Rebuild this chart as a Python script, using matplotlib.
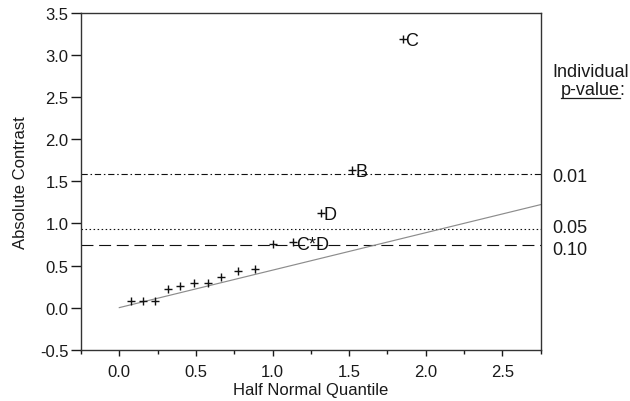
import matplotlib
matplotlib.use("Agg")
import matplotlib.pyplot as plt
import matplotlib.transforms as mtransforms
from matplotlib.lines import Line2D
import numpy as np

plt.rcParams['font.family'] = ['Liberation Sans', 'DejaVu Sans']
plt.rcParams['lines.scale_dashes'] = False

# Data
quantiles = [0.078, 0.154, 0.230, 0.318, 0.398, 0.485, 0.577, 0.666, 0.777, 0.888,
             1.003, 1.134, 1.316, 1.52, 1.85]
contrasts = [0.083, 0.083, 0.083, 0.224, 0.26, 0.295, 0.295, 0.366, 0.43, 0.456,
             0.75, 0.778, 1.128, 1.636, 3.196]
labels = ['', '', '', '', '', '', '', '', '', '', '', 'C*D', 'D', 'B', 'C']

pvalue_labels = ['0.01', '0.05', '0.10']
pvalue_levels = [1.585, 0.936, 0.739]
pvalue_styles = ['dashdot', 'dotted', 'dashed']

ref_slope = 0.445
x_ticks = [0.0, 0.5, 1.0, 1.5, 2.0, 2.5]
y_ticks = [-0.5, 0.0, 0.5, 1.0, 1.5, 2.0, 2.5, 3.0, 3.5]

W, H = 630, 402
fig = plt.figure(figsize=(W/100, H/100), dpi=100)
ax = fig.add_axes([81/W, 1-350.7/H, (540.7-81)/W, (350.7-14)/H])

dark = '#1a1a1a'
ax.set_xlim(-0.25, 2.75)
ax.set_ylim(-0.5, 3.5)

# reference line
xr = np.array([0.0, 2.75])
ax.plot(xr, ref_slope*xr, color='#8c8c8c', lw=0.85, zorder=2)

# p-value lines
dash_map = {'dashdot': (0, (4.5, 2.0, 1.1, 2.0)),
            'dotted': (0, (1.1, 1.8)),
            'dashed': (0, (8.6, 4.1))}
for lvl, st in zip(pvalue_levels, pvalue_styles):
    ax.axhline(lvl, color='#111111', lw=0.8, linestyle=dash_map[st], zorder=1)

# points
ax.plot(quantiles, contrasts, linestyle='none', marker='+', ms=6, mew=1.0,
        color='#111111', zorder=3)
for x, y, lab in zip(quantiles, contrasts, labels):
    if lab:
        ax.annotate(lab, (x, y), xytext=(2, 0), textcoords='offset points',
                    ha='left', va='center_baseline', fontsize=13, color='#111111')

ax.set_xticks(x_ticks)
ax.set_xticklabels([f'{v:.1f}' for v in x_ticks])
ax.set_xticks(np.arange(-0.25, 2.8, 0.25), minor=True)
ax.set_yticks(y_ticks)
ax.set_yticklabels([f'{v:.1f}' for v in y_ticks])

ax.tick_params(axis='both', which='major', labelsize=12, colors=dark, width=1.0, direction='out')
ax.tick_params(axis='x', which='major', length=4.3, pad=6)
ax.tick_params(axis='x', which='minor', width=1.0, length=2.9, colors=dark)
ax.tick_params(axis='y', which='major', length=7, pad=2)
for sp in ax.spines.values():
    sp.set_color('#333333')
    sp.set_linewidth(1.0)

ax.set_xlabel('Half Normal Quantile', fontsize=12, color=dark)
ax.xaxis.label.set_va('baseline')
ax.xaxis.set_label_coords(0.5, -(395-350.7)/336.7)
ax.set_ylabel('Absolute Contrast', fontsize=12, color=dark)
ax.yaxis.label.set_va('baseline')
ax.yaxis.set_label_coords((25-81)/459.7, 0.5)

# right-side p-value annotations
trans = mtransforms.blended_transform_factory(fig.transFigure, ax.transData)
offsets = {'0.01': 0.0, '0.05': 0.04, '0.10': -0.03}
for lab, lvl in zip(pvalue_labels, pvalue_levels):
    ax.text(552/W, lvl + offsets[lab], lab, transform=trans, ha='left',
            va='center_baseline', fontsize=13, color=dark, clip_on=False)

fig.text(552/W, 1-77/H, 'Individual', ha='left', va='baseline', fontsize=13, color=dark)
t = fig.text(560.5/W, 1-95/H, 'p-value', ha='left', va='baseline', fontsize=13, color=dark)
fig.canvas.draw()
bb = t.get_window_extent(fig.canvas.get_renderer())
fig.text(bb.x1/W, 1-95/H, ':', ha='left', va='baseline', fontsize=13, color=dark)
uy = (H-99)/H
fig.add_artist(Line2D([bb.x0/W, bb.x1/W], [uy, uy],
                      transform=fig.transFigure, color=dark, lw=0.9))

fig.savefig('out.png', dpi=100)
